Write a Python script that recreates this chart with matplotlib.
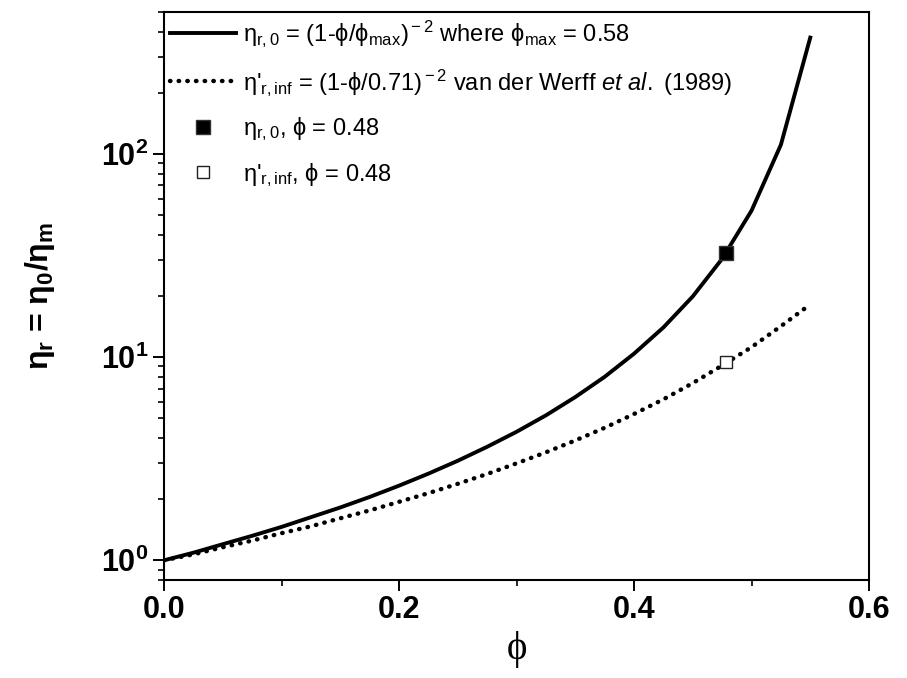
import matplotlib
matplotlib.use('Agg')
import matplotlib.pyplot as plt
from matplotlib.ticker import FixedLocator, FixedFormatter, LogLocator, NullFormatter, MultipleLocator

plt.rcParams['font.family'] = ['Liberation Sans', 'DejaVu Sans']
plt.rcParams['mathtext.fontset'] = 'custom'
plt.rcParams['mathtext.rm'] = 'Liberation Sans'
plt.rcParams['mathtext.it'] = 'Liberation Sans:italic'
plt.rcParams['mathtext.bf'] = 'Liberation Sans:bold'

# values
PHI = [0.0, 0.025, 0.05, 0.075, 0.1, 0.125, 0.15, 0.175, 0.2, 0.225, 0.25,
       0.275, 0.3, 0.325, 0.35, 0.375, 0.4, 0.425, 0.45, 0.475, 0.5, 0.525, 0.55]
ETA_R0 = [1.0, 1.09, 1.20, 1.32, 1.46, 1.63, 1.82, 2.05, 2.33, 2.67, 3.09,
          3.62, 4.29, 5.17, 6.36, 8.0, 10.4, 14.0, 19.9, 30.5, 52.6, 111, 374]
PHI_INF = [0.0, 0.025, 0.05, 0.075, 0.1, 0.125, 0.15, 0.175, 0.2, 0.225, 0.25,
           0.275, 0.3, 0.325, 0.35, 0.375, 0.4, 0.425, 0.45, 0.475, 0.5, 0.525, 0.545]
ETA_INF = [1.0, 1.07, 1.16, 1.25, 1.36, 1.47, 1.61, 1.76, 1.94, 2.14, 2.38,
           2.66, 3.0, 3.4, 3.89, 4.49, 5.25, 6.2, 7.45, 9.1, 11.2, 14.2, 17.3]
PT_PHI = 0.478
PT_R0 = 32.5
PT_INF = 9.5

LBL_R0 = r'η$_{\rm r,0}$ = (1-ϕ/ϕ$_{\rm max}$)$^{\rm -2}$ where ϕ$_{\rm max}$ = 0.58'
LBL_INF = r"η'$_{\rm r,inf}$ = (1-ϕ/0.71)$^{\rm -2}$ van der Werff $\it{et\ al.}$ (1989)"
LBL_PT0 = r'η$_{\rm r,0}$, ϕ = 0.48'
LBL_PTI = r"η'$_{\rm r,inf}$, ϕ = 0.48"

fig = plt.figure(figsize=(9.07, 6.78), dpi=100)
ax = fig.add_axes([164/907, 1-580/678, (869-164)/907, (580-12)/678])

ax.plot(PHI, ETA_R0, '-', color='black', lw=2.8, label=LBL_R0)
ax.plot(PHI_INF, ETA_INF, color='black', lw=3.2, linestyle=(0, (0.1, 1.85)),
        dash_capstyle='round', label=LBL_INF)
ax.plot([PT_PHI], [PT_R0], 's', color='black', ms=10, mec='#333333', mew=1, label=LBL_PT0)
ax.plot([PT_PHI], [PT_INF], 's', mfc='white', mec='#222222', ms=8, mew=1, label=LBL_PTI)

ax.set_yscale('log')
ax.set_xlim(0, 0.6)
ax.set_ylim(0.8, 500)

ax.xaxis.set_minor_locator(MultipleLocator(0.1))
ax.set_xticks([0, 0.2, 0.4, 0.6])
ax.set_xticklabels(['0.0', '0.2', '0.4', '0.6'], fontsize=22, fontweight='bold')
ax.yaxis.set_major_locator(FixedLocator([1, 10, 100]))
ax.yaxis.set_major_formatter(FixedFormatter([r'$\mathbf{10^{0}}$', r'$\mathbf{10^{1}}$',
                                             r'$\mathbf{10^{2}}$']))
ax.yaxis.set_minor_locator(LogLocator(base=10, subs=range(2, 10)))
ax.yaxis.set_minor_formatter(NullFormatter())
for t in ax.get_yticklabels():
    t.set_fontsize(22)

ax.tick_params(which='major', direction='out', length=8, width=1.4, pad=3)
ax.tick_params(which='minor', direction='out', length=4.5, width=1.2)
for s in ax.spines.values():
    s.set_linewidth(1.5)

ax.set_xlabel('ϕ', fontsize=28, family='Liberation Serif', labelpad=4)
ax.set_ylabel(r'η$_\mathbf{r}$ = η$_\mathbf{0}$/η$_\mathbf{m}$', fontsize=23,
              fontweight='bold', labelpad=32)

ax.legend(loc='upper left', frameon=False, fontsize=17, handlelength=2.8,
          handletextpad=0.3, labelspacing=0.75, borderaxespad=0.1,
          borderpad=0.15, numpoints=1)

fig.savefig('out.png', dpi=100)
